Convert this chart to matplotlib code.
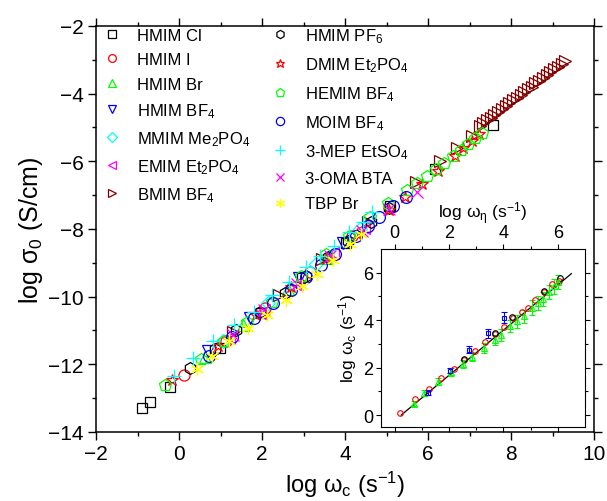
import numpy as np
import matplotlib
matplotlib.use('Agg')
import matplotlib.pyplot as plt

plt.rcParams['font.family'] = ['Liberation Sans', 'DejaVu Sans']
plt.rcParams['mathtext.fontset'] = 'custom'
plt.rcParams['mathtext.rm'] = 'Liberation Sans'
plt.rcParams['mathtext.it'] = 'Liberation Sans:italic'
plt.rcParams['mathtext.bf'] = 'Liberation Sans:bold'

# ---------------- main panel data: log wc vs log sigma0 ----------------
hmim_cl_x = [-0.89, -0.69, -0.22, 0.99, 1.98, 2.97, 4.02, 5.08, 6.18, 7.57]
hmim_cl_y = [-13.30, -13.12, -12.68, -11.51, -10.48, -9.46, -8.40, -7.33, -6.22, -4.92]

hmim_i_x = [0.13, 1.12, 2.08, 3.15, 4.18]
hmim_i_y = [-12.32, -11.30, -10.33, -9.26, -8.22]

hmim_br_x = [0.62, 1.55, 2.62, 3.55]
hmim_br_y = [-11.78, -10.85, -9.78, -8.85]

hmim_bf4_x = [0.70, 1.70, 2.90, 3.95]
hmim_bf4_y = [-11.62, -10.62, -9.45, -8.40]

mmim_x = [1.05, 2.15, 3.30, 4.35]
mmim_y = [-11.30, -10.20, -9.05, -8.00]

emim_x = [1.20, 1.95, 2.80, 3.70, 4.45]
emim_y = [-11.22, -10.48, -9.62, -8.72, -7.98]

bmim_x = [1.30, 2.40, 3.45, 4.55, 5.70, 6.30, 6.70, 7.05,
          7.25, 7.33, 7.42, 7.51, 7.60, 7.69, 7.78, 7.87, 7.96, 8.05, 8.14, 8.23,
          8.32, 8.41, 8.50, 8.59, 8.68, 8.77, 8.86, 8.95, 9.04, 9.13, 9.22, 9.31]
bmim_y = [-11.05, -9.95, -8.90, -7.80, -6.60, -6.00, -5.62, -5.25,
          -4.95, -4.87, -4.79, -4.71, -4.62, -4.54, -4.46, -4.37, -4.29, -4.20, -4.12, -4.04,
          -3.95, -3.87, -3.79, -3.70, -3.62, -3.54, -3.45, -3.37, -3.28, -3.20, -3.12, -3.03]

hmim_pf6_x = [0.27, 0.87, 1.38, 1.95, 2.55, 3.05, 3.60, 4.08, 4.62, 5.05]
hmim_pf6_y = [-12.10, -11.55, -11.00, -10.45, -9.88, -9.38, -8.82, -8.35, -7.80, -7.38]

dmim_x = [-0.18, 0.95, 1.85, 2.70, 3.55, 4.30, 5.05, 5.45, 5.85, 6.25, 6.65, 6.85, 7.06, 7.23]
dmim_y = [-12.45, -11.45, -10.55, -9.72, -8.88, -8.15, -7.45, -7.05, -6.68, -6.30, -5.85, -5.62, -5.40, -5.20]

hemim_x = [-0.33, 0.52, 1.08, 1.65, 2.25, 2.95, 3.55, 4.10, 4.60, 5.04,
           5.50, 5.74, 5.97, 6.19, 6.39, 6.60, 6.79, 6.97, 7.14, 7.30]
hemim_y = [-12.62, -11.85, -11.32, -10.75, -10.15, -9.40, -8.75, -8.20, -7.65, -7.22,
           -6.85, -6.63, -6.42, -6.22, -6.05, -5.83, -5.66, -5.48, -5.32, -5.15]

moim_x = [0.73, 1.27, 1.81, 2.27, 2.70, 3.07, 3.43, 3.75, 4.27, 4.55, 4.83, 5.15, 5.48]
moim_y = [-11.76, -11.18, -10.62, -10.20, -9.80, -9.42, -9.07, -8.73, -8.20, -7.90, -7.64, -7.32, -7.05]

mep_x = [-0.13, 0.34, 0.82, 1.33, 1.81, 2.23, 2.65, 3.07, 3.40, 3.73, 4.10, 4.43, 4.64]
mep_y = [-12.35, -11.80, -11.32, -10.83, -10.44, -9.95, -9.56, -9.12, -8.80, -8.49, -8.10, -7.80, -7.51]

oma_x = [1.30, 2.05, 2.85, 3.65, 4.40, 5.05, 5.74]
oma_y = [-11.12, -10.40, -9.62, -8.80, -8.05, -7.42, -6.92]

tbp_x = [0.43, 0.80, 1.20, 1.67, 2.12, 2.58, 2.96, 3.33, 3.71, 4.12, 4.38]
tbp_y = [-12.15, -11.76, -11.32, -10.93, -10.54, -10.10, -9.70, -9.32, -8.93, -8.44, -8.15]

# ---------------- inset data: log w_eta vs log wc ----------------
in_red_x = [0.20, 0.75, 1.26, 1.70, 2.17, 2.57, 2.96, 3.33, 3.70, 4.01, 4.36, 4.69, 4.89, 5.16, 5.49, 5.78, 6.05]
in_red_y = [0.11, 0.67, 1.11, 1.56, 1.96, 2.33, 2.71, 3.09, 3.41, 3.72, 4.08, 4.36, 4.53, 4.84, 5.19, 5.52, 5.66]

in_blk_x = [2.55, 3.68, 4.33, 5.50, 6.10]
in_blk_y = [2.35, 3.45, 4.13, 5.25, 5.78]

in_grn_x = [0.71, 1.07, 1.60, 2.07, 2.53, 2.86, 3.27, 3.68, 3.93, 4.23, 4.50, 4.75, 5.06, 5.28, 5.47, 5.68, 5.86, 5.99]
in_grn_y = [0.48, 0.92, 1.40, 1.82, 2.15, 2.46, 2.82, 3.16, 3.37, 3.76, 3.96, 4.16, 4.53, 4.74, 4.88, 5.19, 5.42, 5.61]
in_grn_err = [0.10, 0.12, 0.15, 0.15, 0.18, 0.20, 0.22, 0.22, 0.25, 0.25, 0.28, 0.28, 0.30, 0.30, 0.30, 0.30, 0.30, 0.30]

in_blu_x = [1.22, 2.04, 2.75, 3.42, 4.01]
in_blu_y = [0.94, 1.88, 2.75, 3.44, 4.11]
in_blu_err = [0.10, 0.12, 0.15, 0.20, 0.22]

fit_x = [0.24, 6.50]
fit_y = [0.00, 5.96]

GREEN = '#00FF00'
CYAN = '#00FFFF'
MAGENTA = '#FF00FF'
YELLOW = '#FFFF00'
MAROON = '#800000'

fig = plt.figure(figsize=(6.07, 5.02), dpi=100)
ax = fig.add_axes([0.1582, 0.1375, 0.8204, 0.8088])

series = [
    (hmim_cl_x, hmim_cl_y, 's', 'black', 'HMIM Cl', 7.5),
    (hmim_i_x, hmim_i_y, 'o', 'red', 'HMIM I', 8),
    (hmim_br_x, hmim_br_y, '^', GREEN, 'HMIM Br', 8.5),
    (hmim_bf4_x, hmim_bf4_y, 'v', 'blue', 'HMIM BF$_4$', 8.5),
    (mmim_x, mmim_y, 'D', CYAN, 'MMIM Me$_2$PO$_4$', 7),
    (emim_x, emim_y, '<', MAGENTA, 'EMIM Et$_2$PO$_4$', 8.5),
    (bmim_x, bmim_y, '>', MAROON, 'BMIM BF$_4$', 9),
    (hmim_pf6_x, hmim_pf6_y, 'h', 'black', 'HMIM PF$_6$', 8.5),
    (dmim_x, dmim_y, '*', 'red', 'DMIM Et$_2$PO$_4$', 9),
    (hemim_x, hemim_y, 'p', GREEN, 'HEMIM BF$_4$', 9),
    (moim_x, moim_y, 'o', 'blue', 'MOIM BF$_4$', 8.5),
    (mep_x, mep_y, '+', CYAN, '3-MEP EtSO$_4$', 9.5),
    (oma_x, oma_y, 'x', MAGENTA, '3-OMA BTA', 8),
    (tbp_x, tbp_y, (6, 2, 0), YELLOW, 'TBP Br', 9.5),
]

handles = []
for xs, ys, mk, col, lab, ms in series:
    h, = ax.plot(xs, ys, linestyle='none', marker=mk, markersize=ms,
                 markerfacecolor='none', markeredgecolor=col, markeredgewidth=0.9,
                 label=lab)
    handles.append(h)

ax.set_xlim(-2, 10)
ax.set_ylim(-14, -2)
ax.set_xticks(np.arange(-2, 11, 2))
ax.set_yticks(np.arange(-14, -1, 2))
ax.set_xticks(np.arange(-1, 10, 2), minor=True)
ax.set_yticks(np.arange(-13, -2, 1), minor=True)
ax.tick_params(which='both', direction='out', top=True, right=True, width=1.0)
ax.tick_params(which='major', length=5.5, labelsize=15)
ax.tick_params(which='minor', length=3)
for s in ax.spines.values():
    s.set_linewidth(1.1)
ax.set_xlabel('log ω$_\\mathrm{c}$ (s$^{-1}$)', fontsize=17, labelpad=4)
ax.set_ylabel('log σ$_0$ (S/cm)', fontsize=18, labelpad=2)

leg_kw = dict(frameon=False, fontsize=12, handlelength=1.0, handletextpad=1.0,
              borderpad=0, borderaxespad=0, markerscale=0.7,
              numpoints=1, loc='upper left')
leg1 = ax.legend(handles=handles[:7], bbox_to_anchor=(0.0155, 0.995),
                 labelspacing=0.56, **leg_kw)
ax.add_artist(leg1)
ax.legend(handles=handles[7:], bbox_to_anchor=(0.353, 1.0),
          labelspacing=0.62, **leg_kw)

# ---------------- inset ----------------
axi = fig.add_axes([0.6277, 0.1474, 0.336, 0.3546])
axi.plot(fit_x, fit_y, color='black', linewidth=0.9)
axi.errorbar(in_grn_x, in_grn_y, yerr=in_grn_err, fmt='^', color=GREEN, markersize=4,
             markerfacecolor='none', markeredgewidth=0.8, elinewidth=0.8, capsize=2)
axi.errorbar(in_blu_x, in_blu_y, yerr=in_blu_err, fmt='s', color='blue', markersize=3.5,
             markerfacecolor='none', markeredgewidth=0.8, elinewidth=0.8, capsize=2)
axi.plot(in_red_x, in_red_y, linestyle='none', marker='o', markersize=4,
         markerfacecolor='none', markeredgecolor='red', markeredgewidth=0.8)
axi.plot(in_blk_x, in_blk_y, linestyle='none', marker='o', markersize=4,
         markerfacecolor='none', markeredgecolor='black', markeredgewidth=0.8)

axi.set_xlim(-0.5, 7.0)
axi.set_ylim(-0.5, 7.0)
axi.set_xticks([0, 2, 4, 6])
axi.set_yticks([0, 2, 4, 6])
axi.set_xticks([1, 3, 5], minor=True)
axi.set_yticks([1, 3, 5], minor=True)
axi.tick_params(which='both', direction='out', top=True, bottom=True, right=True,
                labeltop=True, labelbottom=False, width=0.8)
axi.tick_params(which='major', length=3.5, labelsize=13, pad=2)
axi.tick_params(which='minor', length=2)
axi.xaxis.set_label_position('top')
axi.set_xlabel('log ω$_\\mathrm{η}$ (s$^{-1}$)', fontsize=12.5, labelpad=5)
axi.set_ylabel('log ω$_\\mathrm{c}$ (s$^{-1}$)', fontsize=12.5, labelpad=3)
for s in axi.spines.values():
    s.set_linewidth(0.8)

fig.savefig('out.png', dpi=100)
